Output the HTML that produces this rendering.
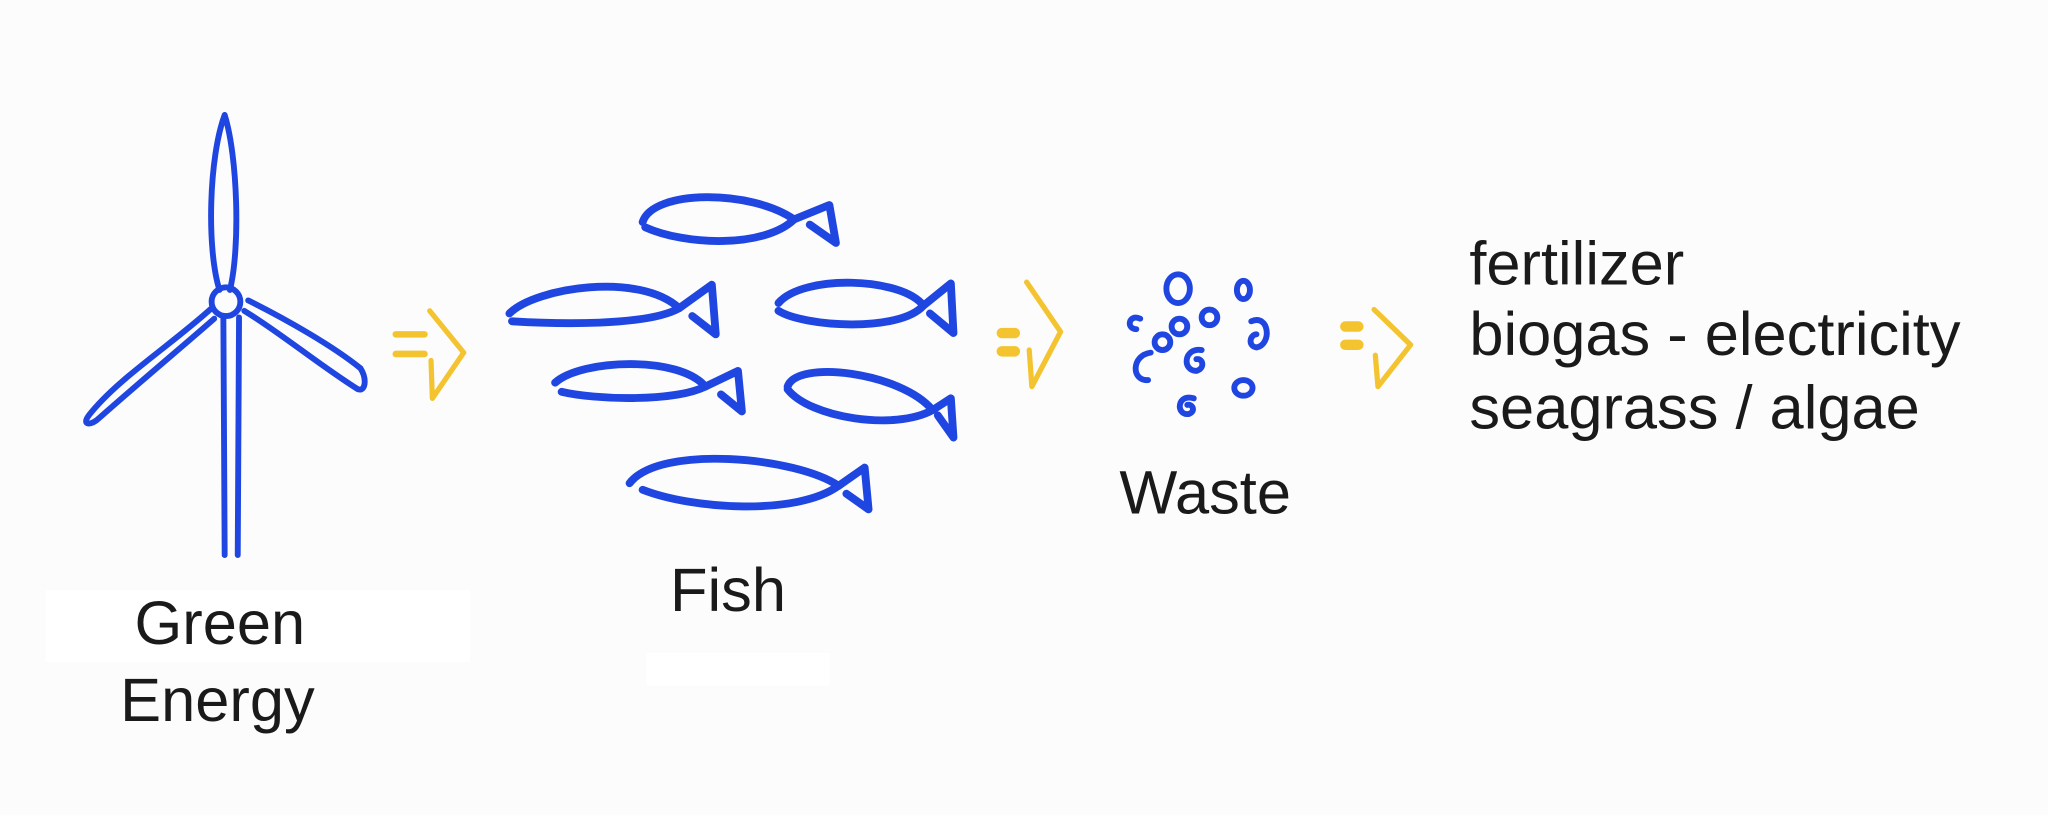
<!DOCTYPE html>
<html><head><meta charset="utf-8"><style>
html,body{margin:0;padding:0;background:#fcfcfc;}
svg{display:block}
text{font-family:"Liberation Sans",Arial,sans-serif;fill:#1a1a1a;}
</style></head><body>
<svg width="2048" height="815" viewBox="0 0 1568 624" xmlns="http://www.w3.org/2000/svg">
<rect width="1568" height="624" fill="#fcfcfc"/>
<rect x="35" y="452" width="325" height="55" fill="#ffffff"/>
<rect x="495" y="500" width="140" height="25" fill="#ffffff"/>
<g fill="none" stroke="#1f46e0" stroke-width="4.5" stroke-linecap="round" stroke-linejoin="round">
<path d="M172 88 C160 120 158 190 168 222 M172 88 C182 120 184 190 176 222"/>
<circle cx="173" cy="231" r="11"/>
<path d="M171 243 L172 425 M183 243 L182 425"/>
<path d="M162 236 C130 265 90 290 68 318 C62 326 70 326 76 320 C110 290 140 265 164 244"/>
<path d="M190 230 C220 245 255 265 276 282 C281 290 280 300 274 298 C245 280 215 255 187 238"/>
</g>
<g fill="none" stroke="#1f46e0" stroke-width="6" stroke-linecap="round" stroke-linejoin="round">
<path d="M492 170 C500 145 575 145 608 168 C585 190 525 188 494 174"/>
<path d="M608 168 L635 157 L640 186 L620 172"/>
<path d="M390 240 C410 220 490 208 520 236 C495 250 425 248 392 246"/>
<path d="M520 236 L545 218 L548 256 L530 242"/>
<path d="M596 232 C615 210 690 212 707 234 C688 255 615 250 596 238"/>
<path d="M707 234 L728 217 L730 255 L712 240"/>
<path d="M425 293 C445 275 520 272 540 296 C515 308 455 306 430 300"/>
<path d="M540 296 L565 284 L568 315 L552 302"/>
<path d="M603 296 C610 275 690 285 714 314 C685 330 620 320 603 298"/>
<path d="M714 314 L728 305 L730 335 L718 318"/>
<path d="M482 370 C505 340 610 350 642 372 C610 395 530 390 492 375"/>
<path d="M642 372 L662 358 L665 390 L648 378"/>
</g>
<g fill="none" stroke="#1f46e0" stroke-width="4.5" stroke-linecap="round" stroke-linejoin="round">
<ellipse cx="902" cy="221" rx="9" ry="11"/>
<ellipse cx="952" cy="222" rx="5" ry="7"/>
<path d="M873 244 C864 240 862 252 870 252"/>
<ellipse cx="890" cy="262" rx="6" ry="6"/>
<ellipse cx="903" cy="250" rx="6" ry="6"/>
<ellipse cx="926" cy="243" rx="6" ry="6"/>
<path d="M958 246 C972 240 974 264 962 266 C955 265 957 256 962 256"/>
<path d="M881 270 C866 272 866 292 879 291"/>
<path d="M920 268 C906 266 905 284 916 284 C923 282 921 274 916 275"/>
<ellipse cx="952" cy="297" rx="7" ry="6"/>
<path d="M914 305 C901 301 900 318 910 317 C916 315 913 309 909 310"/>
</g>
<g fill="none" stroke="#f4c430" stroke-linecap="round" stroke-linejoin="round">
<path stroke-width="5" d="M303 256 L325 256 M303 271 L325 271"/>
<path stroke-width="4" d="M329 238 L355 270 L331 305 L330 276"/>
<path stroke-width="8" d="M767 255 L777 255 M767 269 L777 269"/>
<path stroke-width="4" d="M786 216 L812 254 L790 296 L788 268"/>
<path stroke-width="8" d="M1030 250 L1040 250 M1030 264 L1040 264"/>
<path stroke-width="4" d="M1052 237 L1080 264 L1055 296 L1053 272"/>
</g>
<text x="103" y="493" font-size="47">Green</text>
<text x="92" y="552" font-size="47">Energy</text>
<text x="513" y="468" font-size="47">Fish</text>
<text x="857" y="393" font-size="47">Waste</text>
<text x="1125" y="218" font-size="47">fertilizer</text>
<text x="1125" y="272" font-size="47">biogas - electricity</text>
<text x="1125" y="328" font-size="47">seagrass / algae</text>
</svg>
</body></html>
